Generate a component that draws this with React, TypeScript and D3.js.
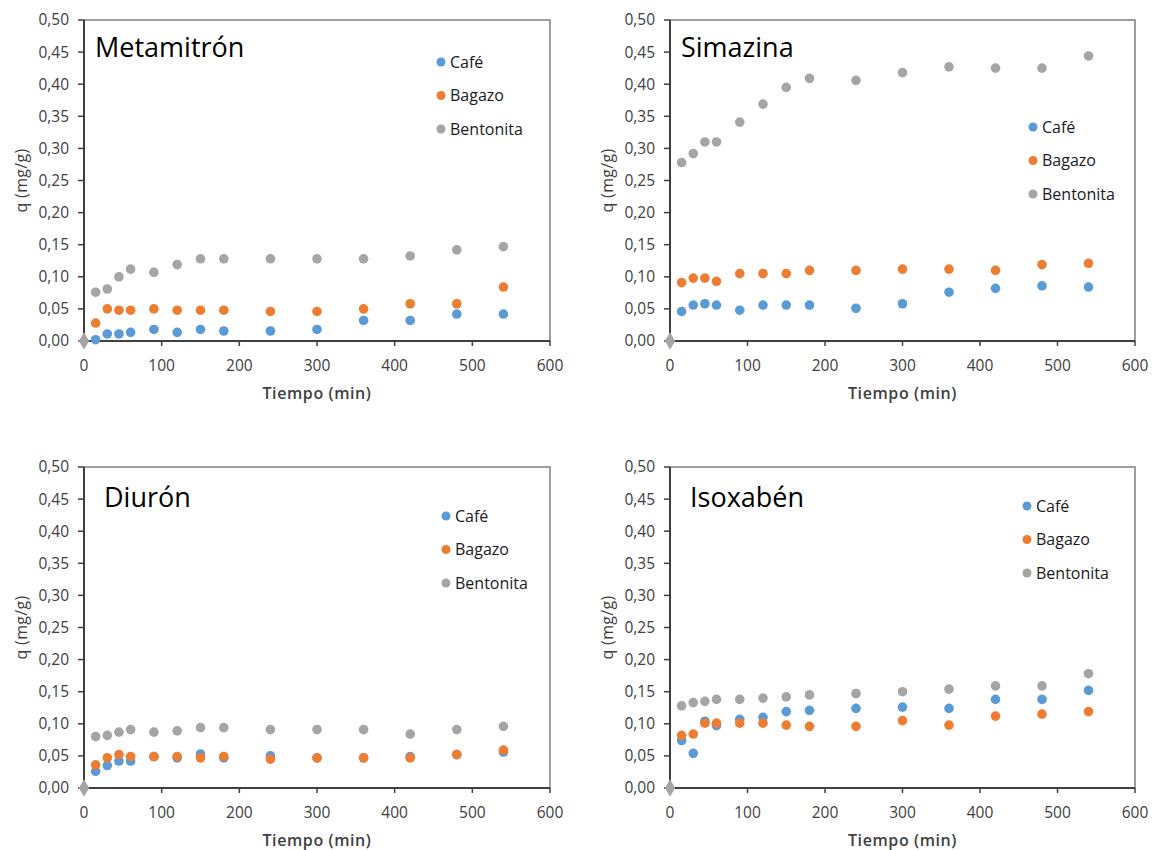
import React from "react";
import * as d3 from "d3";

// ---- Data ----
const times = [15, 30, 45, 60, 90, 120, 150, 180, 240, 300, 360, 420, 480, 540];
const seriesNames = ["Café", "Bagazo", "Bentonita"];
const xTicks = [0, 100, 200, 300, 400, 500, 600];
const yTicks = [0, 0.05, 0.1, 0.15, 0.2, 0.25, 0.3, 0.35, 0.4, 0.45, 0.5];
const origin = [{ x: 0, y: 0 }];

const metamitronCafe = [0.002, 0.011, 0.011, 0.0135, 0.018, 0.0135, 0.018, 0.0156, 0.0156, 0.018, 0.032, 0.032, 0.042, 0.042];
const metamitronBagazo = [0.028, 0.05, 0.048, 0.048, 0.05, 0.048, 0.048, 0.048, 0.046, 0.046, 0.05, 0.058, 0.058, 0.084];
const metamitronBentonita = [0.076, 0.081, 0.1, 0.112, 0.107, 0.119, 0.128, 0.128, 0.128, 0.128, 0.128, 0.1325, 0.142, 0.147];

const simazinaCafe = [0.046, 0.056, 0.058, 0.056, 0.048, 0.056, 0.056, 0.056, 0.051, 0.058, 0.076, 0.082, 0.086, 0.084];
const simazinaBagazo = [0.091, 0.098, 0.098, 0.093, 0.105, 0.105, 0.105, 0.11, 0.11, 0.112, 0.112, 0.11, 0.119, 0.121];
const simazinaBentonita = [0.278, 0.292, 0.31, 0.31, 0.341, 0.369, 0.395, 0.409, 0.406, 0.418, 0.427, 0.425, 0.425, 0.444];

const diuronCafe = [0.026, 0.035, 0.042, 0.042, 0.049, 0.047, 0.053, 0.047, 0.05, 0.047, 0.047, 0.049, 0.052, 0.056];
const diuronBagazo = [0.036, 0.047, 0.052, 0.049, 0.049, 0.049, 0.047, 0.049, 0.045, 0.047, 0.047, 0.047, 0.052, 0.059];
const diuronBentonita = [0.08, 0.082, 0.087, 0.091, 0.087, 0.089, 0.094, 0.094, 0.091, 0.091, 0.091, 0.084, 0.091, 0.096];

const isoxabenCafe = [0.074, 0.054, 0.104, 0.097, 0.107, 0.11, 0.119, 0.121, 0.124, 0.126, 0.124, 0.138, 0.138, 0.152];
const isoxabenBagazo = [0.082, 0.084, 0.101, 0.101, 0.101, 0.101, 0.098, 0.096, 0.096, 0.105, 0.098, 0.112, 0.115, 0.119];
const isoxabenBentonita = [0.128, 0.133, 0.135, 0.138, 0.138, 0.14, 0.142, 0.145, 0.147, 0.15, 0.154, 0.159, 0.159, 0.178];

// ---- Styles / layout ----
const colors = ["#5B9BD5", "#ED7D31", "#A5A5A5"];
const FONT = "'Open Sans', 'Liberation Sans', sans-serif";

const panels = [
  { title: "Metamitrón", series: [metamitronCafe, metamitronBagazo, metamitronBentonita],
    left: 84, right: 550, top: 20, bottom: 341, titleX: 95, titleY: 57, legX: 441, legY: 62 },
  { title: "Simazina", series: [simazinaCafe, simazinaBagazo, simazinaBentonita],
    left: 670, right: 1135, top: 20, bottom: 341, titleX: 681, titleY: 57, legX: 1033, legY: 127 },
  { title: "Diurón", series: [diuronCafe, diuronBagazo, diuronBentonita],
    left: 84, right: 550, top: 467, bottom: 788, titleX: 104, titleY: 507, legX: 446, legY: 516 },
  { title: "Isoxabén", series: [isoxabenCafe, isoxabenBagazo, isoxabenBentonita],
    left: 670, right: 1135, top: 467, bottom: 788, titleX: 690, titleY: 507, legX: 1027, legY: 506 },
];
const legendGap = 33.5;

const fmt = (v: number) => d3.format(".2f")(v).replace(".", ",");

function Panel({ p }: { p: any }) {
  const x = d3.scaleLinear().domain([0, 600]).range([p.left, p.right]);
  const y = d3.scaleLinear().domain([0, 0.5]).range([p.bottom, p.top]);
  const diamond = d3.symbol().type(d3.symbolDiamond).size(90)();
  return (
    <g>
      <rect x={p.left} y={p.top} width={p.right - p.left} height={p.bottom - p.top}
        fill="none" stroke="#7F7F7F" strokeWidth={1.5} />
      <line x1={p.left} x2={p.left} y1={p.top} y2={p.bottom} stroke="#404040" strokeWidth={2} />
      <line x1={p.left} x2={p.right} y1={p.bottom} y2={p.bottom} stroke="#404040" strokeWidth={2} />
      {yTicks.map((t) => (
        <g key={"y" + t}>
          <line x1={p.left - 6} x2={p.left} y1={y(t)} y2={y(t)} stroke="#404040" strokeWidth={1.5} />
          <text x={p.left - 15} y={y(t)} dy="0.35em" textAnchor="end" fontSize={15.5}
            fill="#404040" fontFamily={FONT}>{fmt(t)}</text>
        </g>
      ))}
      {xTicks.map((t) => (
        <g key={"x" + t}>
          <line x1={x(t)} x2={x(t)} y1={p.bottom} y2={p.bottom + 5} stroke="#404040" strokeWidth={1.5} />
          <text x={x(t)} y={p.bottom + 30} textAnchor="middle" fontSize={15.5}
            fill="#404040" fontFamily={FONT}>{t}</text>
        </g>
      ))}
      <text x={(p.left + p.right) / 2} y={p.bottom + 58} textAnchor="middle" fontSize={16}
        fontWeight={600} letterSpacing={0.6} fill="#404040" fontFamily={FONT}>Tiempo (min)</text>
      <text transform={`translate(${p.left - 57},${(p.top + p.bottom) / 2}) rotate(-90)`}
        textAnchor="middle" fontSize={16} fontWeight={500} letterSpacing={0.3} fill="#404040" fontFamily={FONT}>q (mg/g)</text>
      <text x={p.titleX} y={p.titleY} fontSize={27} fill="#000" fontFamily={FONT}>{p.title}</text>
      {p.series.map((vals: number[], si: number) => (
        <g key={"s" + si}>
          {vals.map((v, i) => (
            <circle key={i} cx={x(times[i])} cy={y(v)} r={4.8} fill={colors[si]} />
          ))}
        </g>
      ))}
      {origin.map((o, i) => (
        <path key={"o" + i} d={diamond as string} transform={`translate(${x(o.x)},${y(o.y)})`} fill="#A5A5A5" />
      ))}
      {seriesNames.map((n, si) => (
        <g key={"l" + si}>
          <circle cx={p.legX} cy={p.legY + si * legendGap} r={4.5} fill={colors[si]} />
          <text x={p.legX + 9} y={p.legY + si * legendGap} dy="0.35em" fontSize={16}
            fill="#1a1a1a" fontFamily={FONT}>{n}</text>
        </g>
      ))}
    </g>
  );
}

export default function App() {
  return (
    <svg width={1152} height={850} style={{ position: "absolute", left: 0, top: 0, background: "#fff" }}>
      <rect width={1152} height={850} fill="#fff" />
      {panels.map((p, i) => <Panel key={i} p={p} />)}
    </svg>
  );
}
